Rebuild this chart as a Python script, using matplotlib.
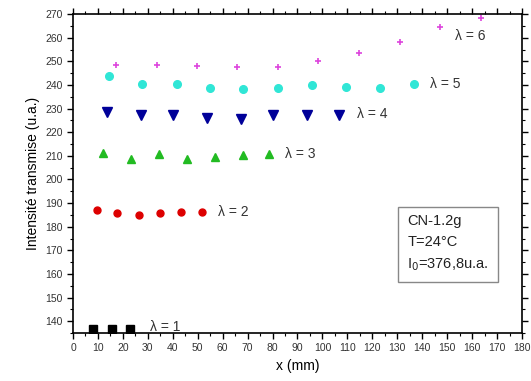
import matplotlib.pyplot as plt
from matplotlib.ticker import MultipleLocator

plt.rcParams['font.family'] = ['Liberation Sans', 'DejaVu Sans']

# lambda = 1 .. 6
x1 = [8.0, 15.6, 22.9]
y1 = [136.7, 136.7, 136.7]

x2 = [9.6, 17.6, 26.5, 34.9, 43.3, 51.7]
y2 = [187.0, 185.8, 185.0, 185.8, 186.3, 186.4]

x3 = [12.0, 23.3, 34.5, 45.7, 56.9, 68.2, 78.6]
y3 = [211.1, 208.6, 210.7, 208.6, 209.4, 210.3, 210.7]

x4 = [13.8, 27.1, 40.1, 53.7, 67.4, 80.2, 93.8, 106.6]
y4 = [228.5, 227.2, 227.2, 225.9, 225.5, 227.4, 227.2, 227.2]

x5 = [14.4, 27.7, 41.7, 54.9, 68.2, 82.2, 95.8, 109.5, 123.1, 136.8]
y5 = [243.7, 240.3, 240.3, 238.6, 238.4, 238.6, 239.9, 239.1, 238.6, 240.3]

x6 = [17.2, 33.7, 49.7, 65.8, 82.2, 98.2, 114.7, 131.1, 147.2, 163.6]
y6 = [248.4, 248.4, 248.0, 247.6, 247.5, 250.1, 253.5, 258.1, 264.5, 268.3]

labels = ['λ = 1', 'λ = 2', 'λ = 3', 'λ = 4', 'λ = 5', 'λ = 6']
label_x = [31, 58, 85, 114, 143, 153]
label_y = [137.5, 186.3, 210.8, 227.8, 240.2, 260.8]

fig = plt.figure(figsize=(5.31, 3.81), dpi=100)
ax = fig.add_axes([0.1375, 0.126, 0.8455, 0.837])

ax.plot(x1, y1, 's', color='black', ms=5.5, ls='none')
ax.plot(x2, y2, 'o', color='#dd0000', ms=5, ls='none')
ax.plot(x3, y3, '^', color='#22bb22', ms=6, ls='none')
ax.plot(x4, y4, 'v', color='#000099', ms=6.5, ls='none')
ax.plot(x5, y5, 'o', color='#30e6d6', ms=5.5, ls='none')
ax.plot(x6, y6, '+', color='#dd44dd', ms=5, mew=1.2, ls='none')

for t, lx, ly in zip(labels, label_x, label_y):
    ax.text(lx, ly, t, fontsize=10, va='center', ha='left', color='#333333')

ax.text(0.745, 0.372, 'CN-1.2g\nT=24°C\nI$_0$=376,8u.a.', transform=ax.transAxes,
        fontsize=10.5, va='top', ha='left', linespacing=1.6, color='#222222',
        bbox=dict(boxstyle='square,pad=0.65', fc='white', ec='#888888', lw=1))

ax.set_xlim(0, 180)
ax.set_ylim(135, 270)
ax.xaxis.set_major_locator(MultipleLocator(10))
ax.xaxis.set_minor_locator(MultipleLocator(5))
ax.yaxis.set_major_locator(MultipleLocator(10))
ax.yaxis.set_minor_locator(MultipleLocator(5))
ax.tick_params(which='both', direction='out', top=True, right=True,
               labelsize=7.5, labelcolor='#333333')
ax.tick_params(which='major', length=4, width=1)
ax.tick_params(which='minor', length=2.5, width=0.8)
for s in ax.spines.values():
    s.set_linewidth(1.2)

ax.set_xlabel('x (mm)', fontsize=10)
ax.set_ylabel('Intensité transmise (u.a.)', fontsize=10)

fig.savefig('out.png', dpi=100)
